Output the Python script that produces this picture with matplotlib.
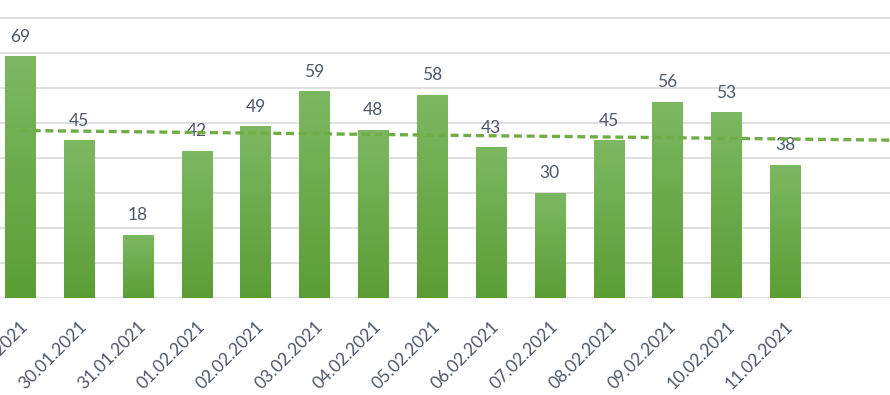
import numpy as np
import matplotlib
matplotlib.use('Agg')
import matplotlib.pyplot as plt
from matplotlib.colors import LinearSegmentedColormap

dates = ['29.01.2021', '30.01.2021', '31.01.2021', '01.02.2021', '02.02.2021',
         '03.02.2021', '04.02.2021', '05.02.2021', '06.02.2021', '07.02.2021',
         '08.02.2021', '09.02.2021', '10.02.2021', '11.02.2021']
counts = [69, 45, 18, 42, 49, 59, 48, 58, 43, 30, 45, 56, 53, 38]

plt.rcParams['font.family'] = ['Lato', 'DejaVu Sans']
text_col = '#4e5867'
green = '#70ad47'

fig = plt.figure(figsize=(8.9, 3.95), dpi=100)
ax = fig.add_axes([0, 0.2456, 1, 0.7544])

x = np.arange(len(counts))
bars = ax.bar(x, counts, width=0.51, color='none', edgecolor='none', zorder=2)

# vertical gradient inside each bar
grad = LinearSegmentedColormap.from_list('g', ['#5b9e35', '#7cb862'])
g = np.linspace(0, 1, 100).reshape(-1, 1)
for b in bars:
    x0, w, h = b.get_x(), b.get_width(), b.get_height()
    im = ax.imshow(g, cmap=grad, origin='lower', aspect='auto',
                   extent=[x0, x0 + w, 0, h], zorder=2)
    im.set_clip_path(b)

for xi, v in zip(x, counts):
    ax.annotate(str(v), (xi, v), xytext=(0, 8.5), textcoords='offset points',
                ha='center', va='bottom', fontsize=12.5, color=text_col)

# linear trend with forward forecast
k, c = np.polyfit(x, counts, 1)
tx = np.array([0, 15])
ax.plot(tx, k * tx + c, color=green, lw=2.4, dashes=(2.4, 1.4), zorder=3)

ax.set_xlim(-0.34, 14.78)
ax.set_ylim(0, 85.14)
ax.set_yticks(range(0, 81, 10))
ax.yaxis.grid(True, color='#d9d9d9', lw=1.2)
ax.set_axisbelow(True)
ax.tick_params(left=False, labelleft=False, bottom=False)
for s in ax.spines.values():
    s.set_visible(False)

ax.set_xticks(x)
ax.set_xticklabels(dates, rotation=45, ha='right', va='top',
                   rotation_mode='anchor', fontsize=12.5, color=text_col)
ax.tick_params(axis='x', pad=11)

fig.savefig('out.png', dpi=100)
